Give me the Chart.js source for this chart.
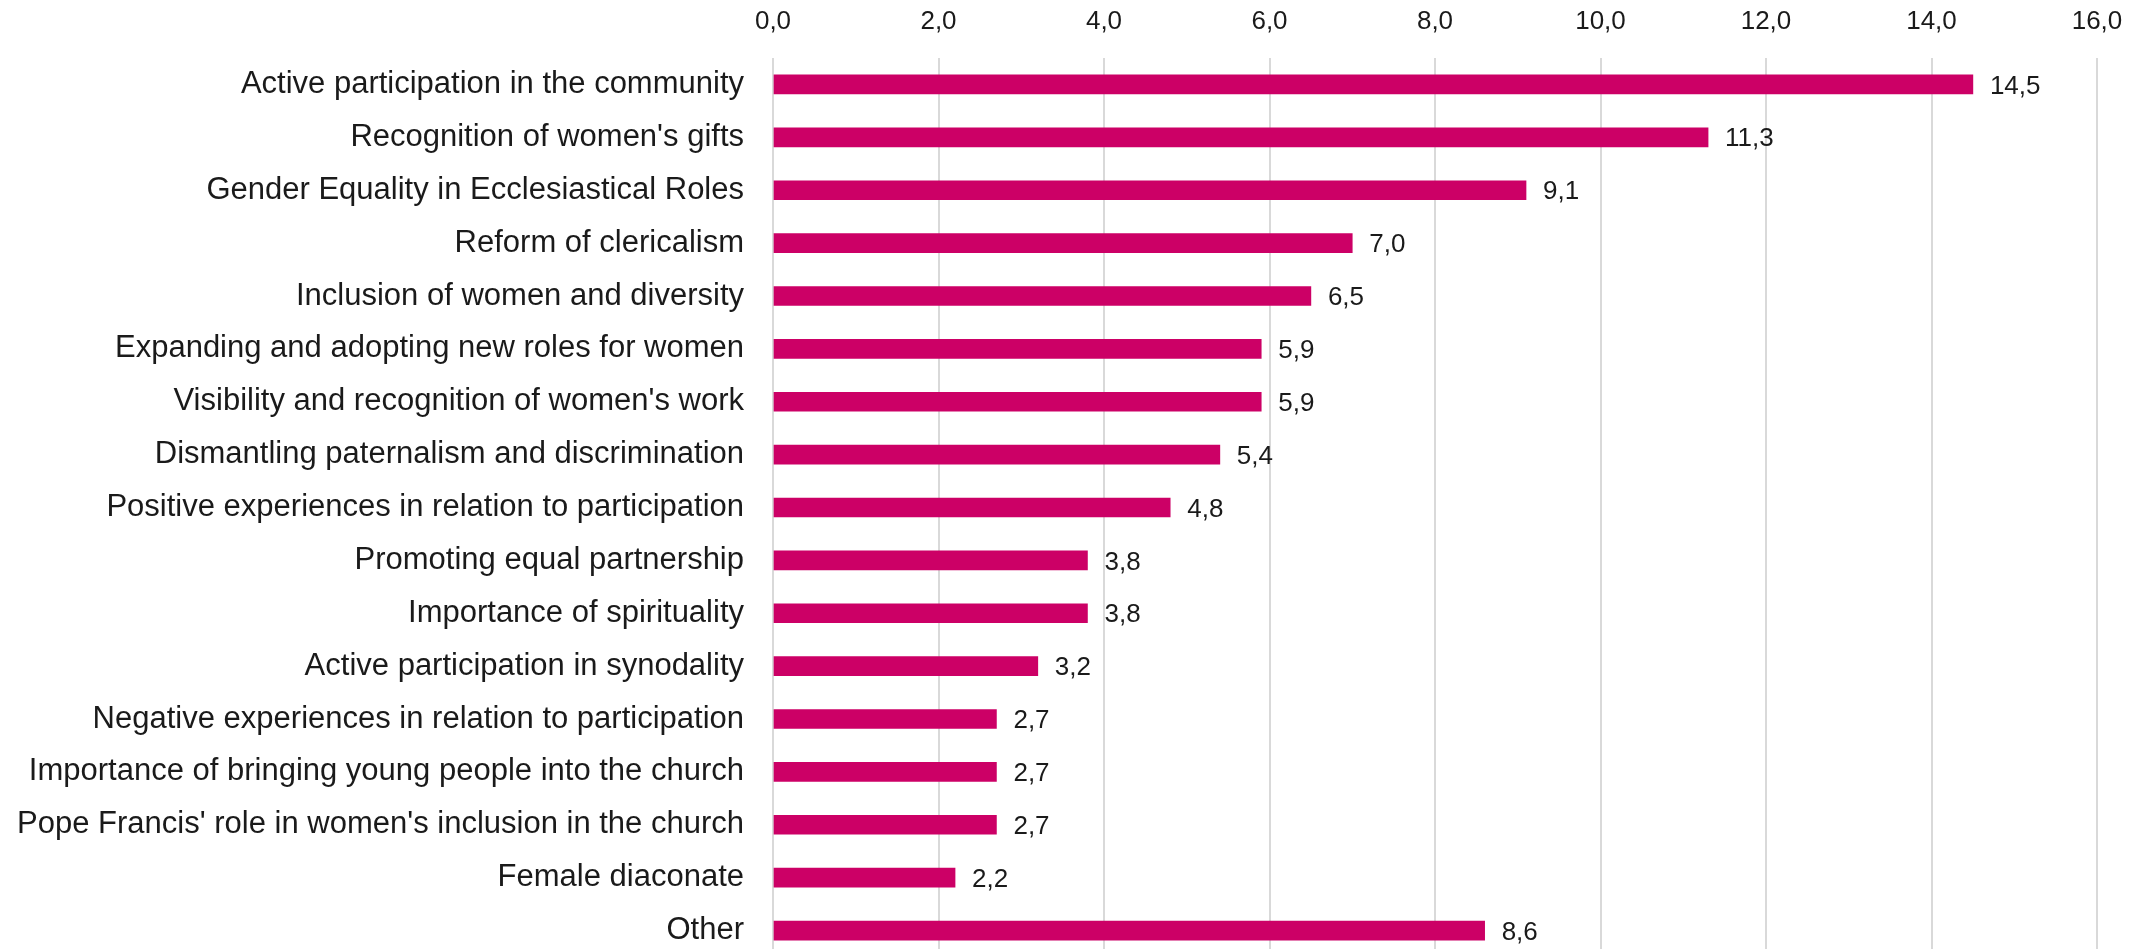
<!DOCTYPE html>
<html>
<head>
<meta charset="utf-8">
<script src="https://cdn.jsdelivr.net/npm/chart.js@4"></script>
<style>
    html, body { margin: 0; padding: 0; background: #fff; overflow: hidden; }
    #wrap { position: relative; width: 2156px; height: 957px; }
</style>
</head>
<body>
<div id="wrap"><canvas id="topicChart"></canvas></div>
<script>
const categories = [
    'Active participation in the community',
    "Recognition of women's gifts",
    'Gender Equality in Ecclesiastical Roles',
    'Reform of clericalism',
    'Inclusion of women and diversity',
    'Expanding and adopting new roles for women',
    "Visibility and recognition of women's work",
    'Dismantling paternalism and discrimination',
    'Positive experiences in relation to participation',
    'Promoting equal partnership',
    'Importance of spirituality',
    'Active participation in synodality',
    'Negative experiences in relation to participation',
    'Importance of bringing young people into the church',
    "Pope Francis' role in women's inclusion in the church",
    'Female diaconate',
    'Other'
];
const shares = [14.5, 11.3, 9.1, 7.0, 6.5, 5.9, 5.9, 5.4, 4.8, 3.8, 3.8, 3.2, 2.7, 2.7, 2.7, 2.2, 8.6];
const axisMin = 0;
const axisMax = 16;
const axisStep = 2;

const fmt = v => Number(v).toFixed(1).replace('.', ',');

// value labels at the end of each bar
const barValueLabels = {
    id: 'barValueLabels',
    afterDatasetsDraw(chart) {
        const ctx = chart.ctx;
        const meta = chart.getDatasetMeta(0);
        ctx.save();
        ctx.font = '26px "Liberation Sans", Arial, sans-serif';
        ctx.fillStyle = '#1a1a1a';
        ctx.textAlign = 'left';
        ctx.textBaseline = 'middle';
        meta.data.forEach((bar, i) => {
            ctx.fillText(fmt(shares[i]), bar.x + 17, bar.y + 2);
        });
        ctx.restore();
    }
};

new Chart(document.getElementById('topicChart'), {
    type: 'bar',
    data: {
        labels: categories,
        datasets: [{
            data: shares,
            backgroundColor: '#cc0066',
            borderWidth: 0,
            barThickness: 19
        }]
    },
    options: {
        indexAxis: 'y',
        responsive: true,
        maintainAspectRatio: false,
        devicePixelRatio: 1,
        animation: false,
        layout: { padding: { left: 0, right: 59, top: 0, bottom: 0 } },
        plugins: {
            legend: { display: false },
            tooltip: { enabled: false }
        },
        scales: {
            x: {
                position: 'top',
                min: axisMin,
                max: axisMax,
                border: { display: false },
                grid: { color: '#d9d9d9', lineWidth: 2, drawTicks: false },
                ticks: {
                    stepSize: axisStep,
                    padding: 21,
                    color: '#1a1a1a',
                    font: { family: '"Liberation Sans", Arial, sans-serif', size: 26 },
                    callback: v => fmt(v)
                },
                afterFit(s) { s.height = 58; }
            },
            y: {
                border: { display: false },
                grid: { display: false, drawTicks: false },
                ticks: {
                    autoSkip: false,
                    padding: 29,
                    color: '#1a1a1a',
                    font: { family: '"Liberation Sans", Arial, sans-serif', size: 31 }
                },
                afterFit(s) {
                    s.width = 773;
                    s.paddingTop = 0;
                    s.paddingBottom = 0;
                }
            }
        }
    },
    plugins: [barValueLabels]
});
</script>
</body>
</html>
